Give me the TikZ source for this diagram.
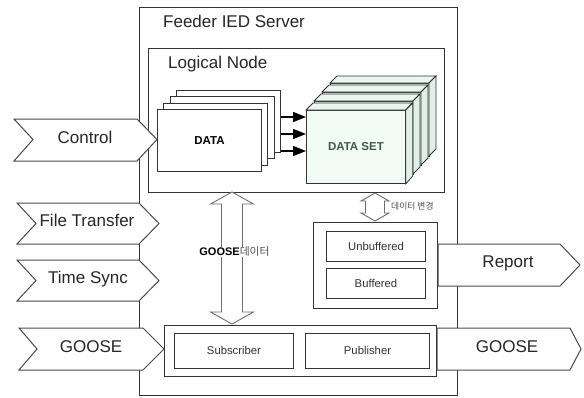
\documentclass[tikz,border=0pt]{standalone}
\usepackage{fontspec}
\setmainfont{Liberation Sans}
\newfontfamily\krfont{Noto Sans CJK KR}
\usetikzlibrary{arrows.meta,calc}

\definecolor{edge}{HTML}{333333}
\definecolor{chevedge}{HTML}{4A4A4A}
\definecolor{arredge}{HTML}{6E6E6E}
\definecolor{dsfront}{HTML}{F3FBF7}
\definecolor{dstop}{HTML}{EAF6F0}
\definecolor{dsside}{HTML}{E0F0E8}
\definecolor{dstext}{HTML}{3B5A50}
\definecolor{krgray}{HTML}{505050}

\begin{document}
\begin{tikzpicture}[x=1pt,y=-1pt,line join=miter,
  box/.style={draw=edge,line width=1pt,fill=white,inner sep=0pt,anchor=north west},
  chevron/.style={draw=chevedge,line width=1pt,fill=white},
  blockarr/.style={draw=arredge,line width=0.9pt,fill=white},
  dsface/.style={draw=edge,line width=0.8pt},
  dataarr/.style={draw=black,line width=1.2pt,-{Triangle[length=13pt,width=10pt]}},
  txt/.style={inner sep=0pt,text height=0.716em,text depth=0pt},
  bigtxt/.style={txt,font=\fontsize{17}{17}\selectfont,text=black!85},
  smalltxt/.style={txt,font=\fontsize{11.3}{12}\selectfont,text=black!80},
  boldtxt/.style={txt,font=\bfseries\fontsize{11.5}{12}\selectfont},
]
\useasboundingbox (0,0) rectangle (584,397);

% ---- server and logical node frames
\node[box,minimum width=318pt,minimum height=388pt] (server) at (139,7) {};
\node[bigtxt,anchor=west] (servertitle) at (163,24) {Feeder IED Server};
\node[box,minimum width=296pt,minimum height=144pt] (lnode) at (148,48) {};
\node[bigtxt,anchor=west] (lntitle) at (168,65) {Logical Node};

% ---- stacked DATA sheets, back to front
\foreach \k in {3,2,1} {
  \node[box,minimum width=104pt,minimum height=62pt] (data\k) at ({157+6.3*\k},{109-6.3*\k}) {};
}
\node[box,minimum width=104pt,minimum height=62pt] (data0) at (157,109) {};
\node[boldtxt] (datatxt) at (data0.center) {DATA};

% ---- stacked DATA SET blocks, back to front
\def\dw{99}\def\dh{73}\def\dd{7}
\foreach \k in {3,2,1} {
  \pgfmathsetmacro\xa{306+8*\k}
  \pgfmathsetmacro\ya{110-9*\k}
  \fill[dsfront,dsface] (\xa,\ya) rectangle ++(\dw,\dh);
  \fill[dstop,dsface] (\xa,\ya) -- ++(\dd,-\dd) -- ++(\dw,0) -- ++(-\dd,\dd) -- cycle;
  \fill[dsside,dsface] (\xa+\dw,\ya) -- ++(\dd,-\dd) -- ++(0,\dh) -- ++(-\dd,\dd) -- cycle;
}
\node[dsface,fill=dsfront,inner sep=0pt,anchor=north west,minimum width=99pt,minimum height=73pt] (dsf) at (306,110) {};
\fill[dstop,dsface] (dsf.north west) -- ++(\dd,-\dd) -- ++(\dw,0) -- (dsf.north east) -- cycle;
\fill[dsside,dsface] (dsf.north east) -- ++(\dd,-\dd) -- ++(0,\dh) -- (dsf.south east) -- cycle;
\node[boldtxt,text=dstext] (dstxt) at (dsf.center) {DATA SET};

% ---- DATA -> DATA SET arrows
\foreach \yy in {117,134,151} {
  \draw[dataarr] (data3.east |- 0,\yy) -- (dsf.west |- 0,\yy);
}

% ---- report block
\node[box,minimum width=124pt,minimum height=86pt] (report) at (313,222) {};
\node[box,minimum width=99pt,minimum height=30pt] (unbuf) at (326,231) {};
\node[smalltxt] at (unbuf.center) {Unbuffered};
\node[box,minimum width=99pt,minimum height=30pt] (buf) at (326,268) {};
\node[smalltxt] at (buf.center) {Buffered};

% ---- GOOSE subscriber / publisher block
\node[box,minimum width=272pt,minimum height=51pt] (pubsub) at (164,325) {};
\node[box,minimum width=119pt,minimum height=35pt] (sub) at (174,333) {};
\node[smalltxt] at (sub.center) {Subscriber};
\node[box,minimum width=124pt,minimum height=35pt] (pub) at (305,333) {};
\node[smalltxt] at (pub.center) {Publisher};

% ---- incoming chevrons
\draw[chevron] (14,119) -- (137,119) -- (157,139.5) -- (137,161) -- (14,161) -- (33,139.5) -- cycle;
\node[bigtxt] (control) at (85,139.5) {Control};
\draw[chevron] (17,203) -- (139,203) -- (159,223.5) -- (139,244) -- (17,244) -- (36,223.5) -- cycle;
\node[bigtxt] (filetr) at (87,223) {File Transfer};
\draw[chevron] (17,260) -- (139,260) -- (159,280.5) -- (139,301) -- (17,301) -- (36,280.5) -- cycle;
\node[bigtxt] (timesync) at (88,280) {Time Sync};
\draw[chevron] (19,328) -- (143,328) -- (164,349) -- (143,370) -- (19,370) -- (37,349) -- cycle;
\node[bigtxt] (goosein) at (91,349) {GOOSE};

% ---- outgoing chevrons
\draw[chevron] (report.east |- 0,244) -- (560,244) -- (580,265) -- (560,286) -- (report.east |- 0,286) -- cycle;
\node[bigtxt] (reportout) at (508,264) {Report};
\draw[chevron] (pubsub.east |- 0,328) -- (570,328) -- (581,349) -- (570,370) -- (pubsub.east |- 0,370) -- cycle;
\node[bigtxt] (gooseout) at (507,349) {GOOSE};

% ---- GOOSE data double arrow between logical node and subscriber block
\coordinate (gtop) at (232,192);
\coordinate (gbot) at (232,324);
\draw[blockarr] (gtop) -- ++(21.5,12) -- ++(-11,0) -- ($(gbot)+(10.5,-12)$) -- ++(11,0)
  -- (gbot) -- ++(-21.5,-12) -- ++(11,0) -- ($(gtop)+(-10.5,12)$) -- ++(-11,0) -- cycle;
\node[fill=white,inner sep=1pt,text height=0.716em,text depth=0pt] (gooselbl) at (234.5,252)
  {\bfseries\fontsize{11}{12}\selectfont GOOSE\mdseries{\krfont\color{krgray}\fontsize{10.8}{12}\selectfont 데이터}};

% ---- data change double arrow between logical node and report block
\coordinate (ctop) at (375,193);
\coordinate (cbot) at (375,221);
\draw[blockarr] (ctop) -- ++(14,8) -- ++(-4.5,0) -- ($(cbot)+(9.5,-8)$) -- ++(4.5,0)
  -- (cbot) -- ++(-14,-8) -- ++(4.5,0) -- ($(ctop)+(-9.5,8)$) -- ++(-4.5,0) -- cycle;
\node[anchor=west,inner sep=0pt,text=krgray,font=\krfont\fontsize{8.8}{10}\selectfont] (chglbl) at (391,206) {데이터 변경};

\end{tikzpicture}
\end{document}
